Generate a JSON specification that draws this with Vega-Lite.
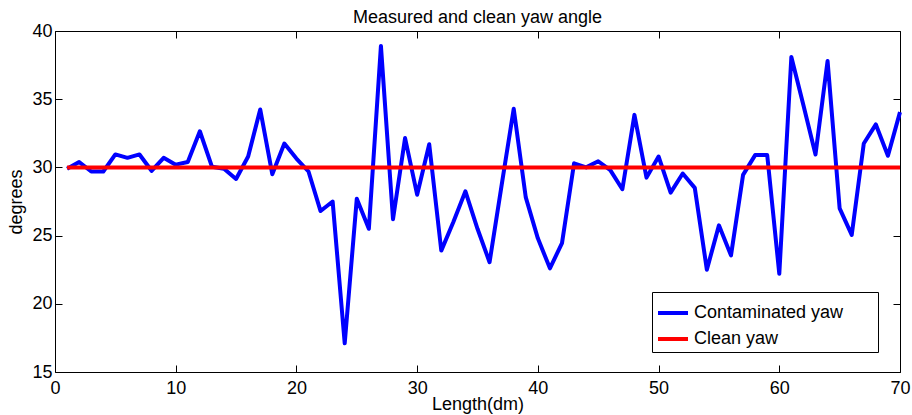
{
  "$schema": "https://vega.github.io/schema/vega-lite/v6.json",
  "autosize": "none",
  "width": 845,
  "height": 341,
  "padding": {"left": 55, "top": 31, "right": 12, "bottom": 43},
  "background": "white",
  "title": {"text": "Measured and clean yaw angle", "fontSize": 18, "fontWeight": "normal", "font": "Liberation Sans", "color": "black", "offset": -5},
  "data": {"values": [
    {"x": 1, "yaw": 29.9, "clean": 30},
    {"x": 2, "yaw": 30.4, "clean": 30},
    {"x": 3, "yaw": 29.7, "clean": 30},
    {"x": 4, "yaw": 29.7, "clean": 30},
    {"x": 5, "yaw": 30.95, "clean": 30},
    {"x": 6, "yaw": 30.7, "clean": 30},
    {"x": 7, "yaw": 30.95, "clean": 30},
    {"x": 8, "yaw": 29.75, "clean": 30},
    {"x": 9, "yaw": 30.7, "clean": 30},
    {"x": 10, "yaw": 30.2, "clean": 30},
    {"x": 11, "yaw": 30.4, "clean": 30},
    {"x": 12, "yaw": 32.65, "clean": 30},
    {"x": 13, "yaw": 30.05, "clean": 30},
    {"x": 14, "yaw": 29.9, "clean": 30},
    {"x": 15, "yaw": 29.15, "clean": 30},
    {"x": 16, "yaw": 30.8, "clean": 30},
    {"x": 17, "yaw": 34.25, "clean": 30},
    {"x": 18, "yaw": 29.5, "clean": 30},
    {"x": 19, "yaw": 31.75, "clean": 30},
    {"x": 20, "yaw": 30.65, "clean": 30},
    {"x": 21, "yaw": 29.7, "clean": 30},
    {"x": 22, "yaw": 26.8, "clean": 30},
    {"x": 23, "yaw": 27.5, "clean": 30},
    {"x": 24, "yaw": 17.1, "clean": 30},
    {"x": 25, "yaw": 27.7, "clean": 30},
    {"x": 26, "yaw": 25.5, "clean": 30},
    {"x": 27, "yaw": 38.9, "clean": 30},
    {"x": 28, "yaw": 26.2, "clean": 30},
    {"x": 29, "yaw": 32.15, "clean": 30},
    {"x": 30, "yaw": 28.0, "clean": 30},
    {"x": 31, "yaw": 31.7, "clean": 30},
    {"x": 32, "yaw": 23.9, "clean": 30},
    {"x": 33, "yaw": 26.0, "clean": 30},
    {"x": 34, "yaw": 28.25, "clean": 30},
    {"x": 35, "yaw": 25.5, "clean": 30},
    {"x": 36, "yaw": 23.05, "clean": 30},
    {"x": 37, "yaw": 28.7, "clean": 30},
    {"x": 38, "yaw": 34.3, "clean": 30},
    {"x": 39, "yaw": 27.8, "clean": 30},
    {"x": 40, "yaw": 24.8, "clean": 30},
    {"x": 41, "yaw": 22.6, "clean": 30},
    {"x": 42, "yaw": 24.45, "clean": 30},
    {"x": 43, "yaw": 30.3, "clean": 30},
    {"x": 44, "yaw": 30.0, "clean": 30},
    {"x": 45, "yaw": 30.45, "clean": 30},
    {"x": 46, "yaw": 29.8, "clean": 30},
    {"x": 47, "yaw": 28.4, "clean": 30},
    {"x": 48, "yaw": 33.85, "clean": 30},
    {"x": 49, "yaw": 29.25, "clean": 30},
    {"x": 50, "yaw": 30.8, "clean": 30},
    {"x": 51, "yaw": 28.15, "clean": 30},
    {"x": 52, "yaw": 29.55, "clean": 30},
    {"x": 53, "yaw": 28.5, "clean": 30},
    {"x": 54, "yaw": 22.5, "clean": 30},
    {"x": 55, "yaw": 25.75, "clean": 30},
    {"x": 56, "yaw": 23.55, "clean": 30},
    {"x": 57, "yaw": 29.45, "clean": 30},
    {"x": 58, "yaw": 30.9, "clean": 30},
    {"x": 59, "yaw": 30.9, "clean": 30},
    {"x": 60, "yaw": 22.2, "clean": 30},
    {"x": 61, "yaw": 38.1, "clean": 30},
    {"x": 62, "yaw": 34.55, "clean": 30},
    {"x": 63, "yaw": 30.95, "clean": 30},
    {"x": 64, "yaw": 37.8, "clean": 30},
    {"x": 65, "yaw": 27.0, "clean": 30},
    {"x": 66, "yaw": 25.05, "clean": 30},
    {"x": 67, "yaw": 31.75, "clean": 30},
    {"x": 68, "yaw": 33.15, "clean": 30},
    {"x": 69, "yaw": 30.85, "clean": 30},
    {"x": 70, "yaw": 34.05, "clean": 30}
  ]},
  "layer": [
    {
      "mark": {"type": "line", "strokeWidth": 4, "strokeJoin": "round"},
      "encoding": {
        "x": {"field": "x", "type": "quantitative", "scale": {"domain": [0, 70], "nice": false, "zero": false},
              "axis": {"orient": "bottom", "title": "Length(dm)", "values": [0, 10, 20, 30, 40, 50, 60, 70], "offset": -7, "labelPadding": 7, "titlePadding": -2, "ticks": true, "tickSize": 7, "tickColor": "black", "tickWidth": 1, "tickOpacity": 1}},
        "y": {"field": "yaw", "type": "quantitative", "scale": {"domain": [15, 40], "nice": false, "zero": false},
              "axis": {"orient": "left", "title": "degrees", "values": [15, 20, 25, 30, 35, 40], "offset": -7, "labelPadding": 3, "titlePadding": 6, "ticks": true, "tickSize": 7, "tickColor": "black", "tickWidth": 1, "tickOpacity": 1}},
        "color": {"datum": "Contaminated yaw", "type": "nominal",
                  "scale": {"domain": ["Contaminated yaw", "Clean yaw"], "range": ["#0000ff", "#ff0000"]},
                  "legend": {"title": " ", "titleOrient": "right", "titlePadding": 31, "orient": "none", "legendX": 597, "legendY": 261}}
      }
    },
    {
      "mark": {"type": "line", "strokeWidth": 4},
      "encoding": {
        "x": {"field": "x", "type": "quantitative",
              "axis": {"orient": "top", "title": null, "labels": false, "offset": -7, "values": [0, 10, 20, 30, 40, 50, 60, 70], "ticks": true, "tickSize": 7, "tickColor": "black", "tickWidth": 1, "tickOpacity": 1}},
        "y": {"field": "clean", "type": "quantitative",
              "axis": {"orient": "right", "title": null, "labels": false, "offset": -7, "values": [15, 20, 25, 30, 35, 40], "ticks": true, "tickSize": 7, "tickColor": "black", "tickWidth": 1, "tickOpacity": 1}},
        "color": {"datum": "Clean yaw", "type": "nominal"}
      }
    }
  ],
  "resolve": {"axis": {"x": "independent", "y": "independent"}},
  "config": {
    "view": {"stroke": "black", "strokeWidth": 1},
    "axis": {
      "domain": false, "grid": false,
      "labelFont": "Liberation Sans", "labelFontSize": 18, "labelColor": "black",
      "titleFont": "Liberation Sans", "titleFontSize": 18, "titleFontWeight": "normal", "titleColor": "black",
      "labelFlush": false, "labelOverlap": false
    },
    "legend": {
      "strokeColor": "black", "fillColor": "white", "padding": 4, "cornerRadius": 0,
      "symbolType": "stroke", "symbolSize": 900, "symbolStrokeWidth": 4,
      "labelFont": "Liberation Sans", "labelFontSize": 18, "labelColor": "black", "labelOffset": 4, "rowPadding": 0,
      "titleFont": "Liberation Sans", "titleFontSize": 18
    }
  }
}
